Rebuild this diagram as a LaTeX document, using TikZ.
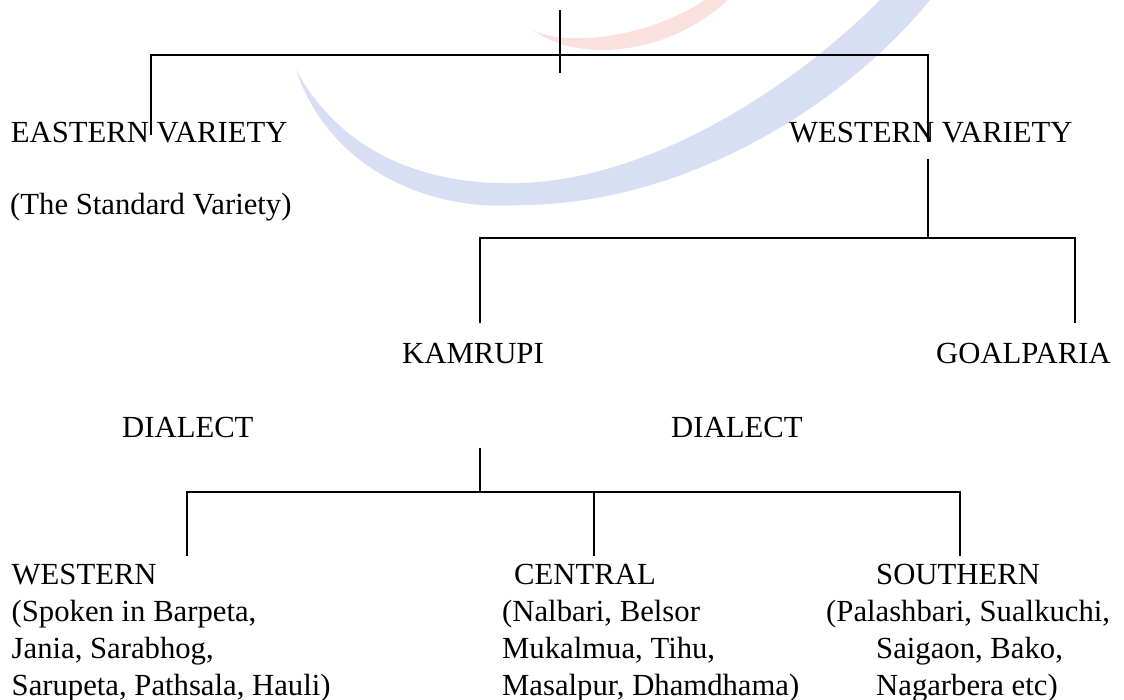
\documentclass[tikz,border=0pt]{standalone}
\usepackage{fontspec}
\setmainfont{Liberation Serif}
\definecolor{wmblue}{RGB}{216,222,244}
\definecolor{wmred}{RGB}{251,224,224}
\begin{document}
\begin{tikzpicture}[x=1pt,y=-1pt,
  lbl/.style={inner sep=0pt, anchor=base west, font=\fontsize{30.7}{37}\selectfont},
  conn/.style={line width=1.6pt, black}]
\useasboundingbox (0,0) rectangle (1124,700);
% faint watermark
\fill[wmblue] (296,70) .. controls (330,170) and (430,212) .. (520,205)
  .. controls (680,205) and (840,110) .. (930,0) -- (880,0)
  .. controls (780,100) and (640,180) .. (520,183)
  .. controls (420,186) and (340,150) .. (296,70) -- cycle;
\fill[wmred] (533,30) .. controls (560,45) and (640,42) .. (705,0) -- (728,0)
  .. controls (665,58) and (575,62) .. (533,30) -- cycle;
% texts
\node[lbl] (east) at (10.7,143) {EASTERN VARIETY};
\node[lbl] (std) at (10,215) {(The Standard Variety)};
\node[lbl] (west) at (789,143) {WESTERN VARIETY};
\node[lbl] (kam) at (402,363) {KAMRUPI};
\node[lbl] (goal) at (936,363) {GOALPARIA};
\node[lbl] (dial1) at (122,437) {DIALECT};
\node[lbl] (dial2) at (671,437) {DIALECT};
\node[lbl] (wd) at (11.5,584) {WESTERN};
\node[lbl] (wd1) at (11.5,621) {(Spoken in Barpeta,};
\node[lbl] (wd2) at (11.5,658) {Jania, Sarabhog,};
\node[lbl] (wd3) at (11.5,695) {Sarupeta, Pathsala, Hauli)};
\node[lbl] (cd) at (514,584) {CENTRAL};
\node[lbl] (cd1) at (502,621) {(Nalbari, Belsor};
\node[lbl] (cd2) at (502,658) {Mukalmua, Tihu,};
\node[lbl] (cd3) at (502,695) {Masalpur, Dhamdhama)};
\node[lbl] (sd) at (876,584) {SOUTHERN};
\node[lbl] (sd1) at (826,621) {(Palashbari, Sualkuchi,};
\node[lbl] (sd2) at (876,658) {Saigaon, Bako,};
\node[lbl] (sd3) at (876,695) {Nagarbera etc)};
% connector points
\coordinate (top) at (560,10);
\coordinate (topj) at (560,73);
\coordinate (h1l) at (151,55);
\coordinate (h1r) at (928,55);
\coordinate (eastin) at (151,135);
\coordinate (westin) at (928,142);
\coordinate (wv) at (928,159);
\coordinate (h2c) at (928,238);
\coordinate (h2l) at (480,238);
\coordinate (h2r) at (1075,238);
\coordinate (kamt) at (480,323);
\coordinate (goalt) at (1075,323);
\coordinate (kd) at (480,448);
\coordinate (h3c) at (480,492);
\coordinate (h3l) at (187,492);
\coordinate (h3m) at (594,492);
\coordinate (h3r) at (960,492);
\coordinate (wt) at (187,556);
\coordinate (ct) at (594,556);
\coordinate (st) at (960,556);
% connectors
\draw[conn] (top) -- (topj);
\draw[conn] (eastin) -- (h1l) -- (h1r) -- (westin);
\draw[conn] (wv) -- (h2c);
\draw[conn] (kamt) -- (h2l) -- (h2r) -- (goalt);
\draw[conn] (kd) -- (h3c);
\draw[conn] (wt) -- (h3l) -- (h3r) -- (st);
\draw[conn] (h3m) -- (ct);
\end{tikzpicture}
\end{document}
